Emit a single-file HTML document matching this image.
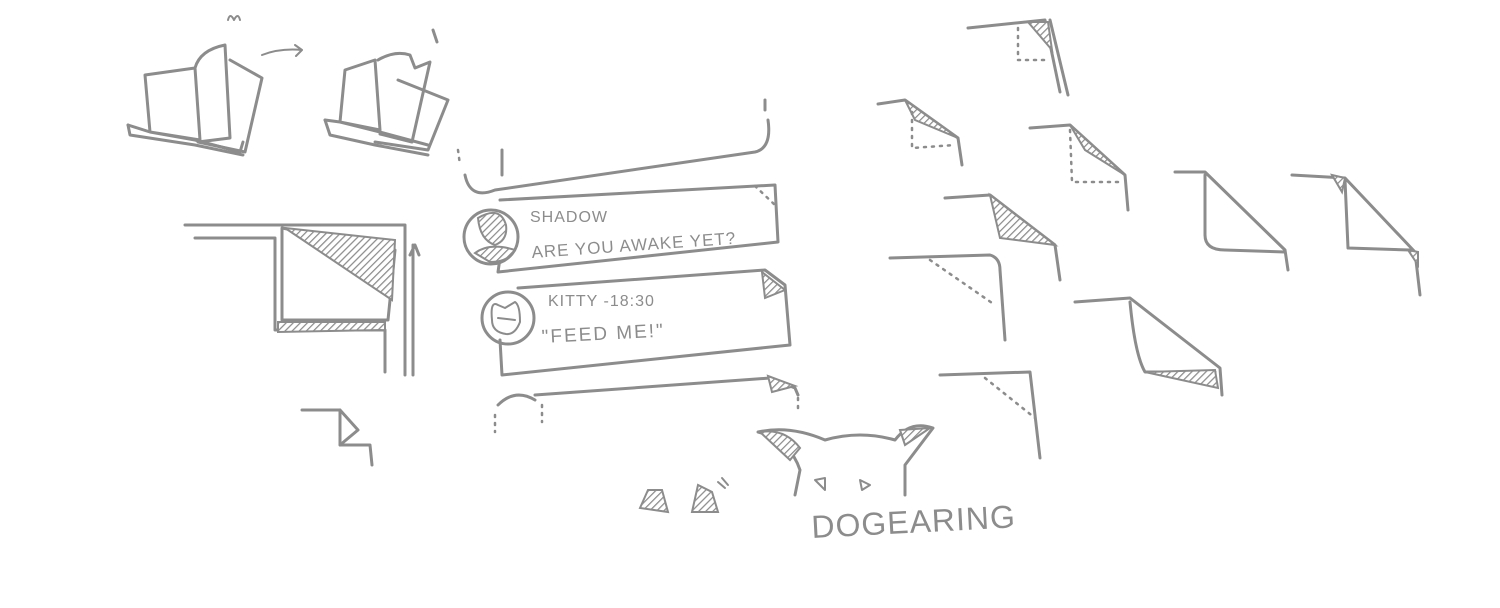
<!DOCTYPE html>
<html><head><style>
html,body{margin:0;padding:0;background:#fff;width:1500px;height:608px;overflow:hidden}
svg{display:block}
.s{fill:none;stroke:#8c8c8c;stroke-width:3;stroke-linecap:round;stroke-linejoin:round}
.t{stroke-width:2}
.d{stroke-dasharray:2 6;stroke-width:2.5}
.h{fill:url(#hatch);stroke:#8c8c8c;stroke-width:2}
text{font-family:"Liberation Sans",sans-serif;fill:#8c8c8c;letter-spacing:2px}
</style></head><body>
<svg width="1500" height="608" viewBox="0 0 1500 608">
<defs><pattern id="hatch" width="5" height="5" patternUnits="userSpaceOnUse" patternTransform="rotate(45)"><rect width="5" height="5" fill="#fff"/><line x1="0" y1="0" x2="0" y2="5" stroke="#8c8c8c" stroke-width="2.5"/></pattern></defs>
<!-- books -->
<path class="s" d="M145 75 L195 68 L200 140 L150 132 Z M128 125 L150 132 L195 140 L240 152 L243 142"/>
<path class="s" d="M195 68 Q200 50 225 45 L230 138 L198 142 M230 60 L262 78 L245 152 L198 142"/>
<path class="s" d="M128 125 L130 135 L195 145 L243 155"/>
<path class="s t" d="M228 20 Q230 12 234 20 Q238 12 240 20 M262 55 Q280 48 302 50 M295 45 L302 50 L296 56"/>
<path class="s" d="M345 70 L375 60 L380 130 L340 122 Z M325 120 L340 122 L380 132 L428 145"/>
<path class="s" d="M378 60 Q395 50 410 55 L415 68 L430 62 L412 142 L380 134 M398 80 L448 100 L428 150 L375 142"/>
<path class="s" d="M325 120 L330 135 L375 145 L428 155 M433 30 L437 42"/>
<!-- big dogear -->
<path class="s" d="M185 225 L405 225 L405 375 M195 238 L275 238 L275 330 L385 330 L385 372"/>
<path class="s" d="M282 228 L282 320 L388 320 L395 250 Z"/>
<path class="h" d="M285 228 L395 240 L392 300 Z"/>
<path class="h" d="M278 322 L385 322 L385 330 L278 332 Z"/>
<path class="s" d="M413 245 L413 375 M410 255 L415 245 L419 255"/>
<path class="s" d="M302 410 L340 410 L340 445 L370 445 L372 465 M340 410 L358 430 L340 445"/>
<!-- chat -->
<path class="s" d="M765 100 L765 110 M768 120 Q772 148 755 152 L495 190 Q470 200 465 175 M502 150 L502 175"/>
<path class="s d" d="M458 150 L460 165"/>
<path class="s" d="M500 200 L775 185 L778 242 L498 272 L500 258"/>
<path class="s d" d="M755 186 L775 205"/>
<circle class="s" cx="491" cy="237" r="27"/>
<path class="h" d="M478 218 Q500 205 506 225 Q508 240 495 245 Q480 240 478 218 Z"/>
<path class="h" d="M475 253 Q490 242 515 250 Q508 262 490 262 Z"/>
<text x="530" y="222" font-size="16" style="letter-spacing:1px">SHADOW</text>
<text x="532" y="258" font-size="17" style="letter-spacing:1px" transform="rotate(-4 532 258)">ARE YOU AWAKE YET?</text>
<path class="s" d="M518 288 L765 270 L785 285 L790 345 L502 375 L500 340"/>
<path class="h" d="M762 272 L785 290 L765 298 Z"/>
<circle class="s" cx="508" cy="318" r="26"/>
<path class="s t" d="M492 320 Q490 300 498 305 L505 308 L515 302 Q520 305 520 322 Q515 335 506 334 Q492 332 492 320 Z M498 318 L515 320"/>
<text x="548" y="306" font-size="16" style="letter-spacing:1px">KITTY -18:30</text>
<text x="542" y="343" font-size="19" transform="rotate(-3 542 343)">"FEED ME!"</text>
<path class="s" d="M535 395 L770 378 L795 388 L798 395"/>
<path class="h" d="M768 376 L795 386 L772 392 Z"/>
<path class="s" d="M498 405 Q515 388 535 400"/>
<path class="s d" d="M495 415 L495 432 M542 405 L542 422 M798 398 L798 410"/>
<!-- right dogears -->
<path class="s" d="M968 28 L1045 20 L1060 92 M1050 20 L1068 95"/>
<path class="h" d="M1028 22 L1048 22 L1052 50 Z"/><path class="s d" d="M1018 28 L1018 60 L1050 60"/>
<path class="s" d="M878 104 L905 100 L958 138 L962 165"/><path class="h" d="M905 100 L958 138 L915 120 Z"/><path class="s d" d="M912 112 L912 148 L955 145"/>
<path class="s" d="M1030 128 L1070 125 L1125 175 L1128 210"/><path class="h" d="M1070 125 L1125 175 L1085 150 Z"/><path class="s d" d="M1070 130 L1072 182 L1120 182"/>
<path class="s" d="M945 198 L990 195 L1055 245 L1060 280"/><path class="h" d="M990 195 L1055 245 L1000 238 Z"/>
<path class="s" d="M1175 172 L1205 172 L1285 250 L1288 270 M1205 175 L1205 235 Q1205 250 1225 250 L1285 252"/>
<path class="s" d="M1292 175 L1345 178 L1415 252 L1420 295 M1345 180 L1348 248 L1410 250"/><path class="h" d="M1332 175 L1345 178 L1342 192 Z"/><path class="h" d="M1408 250 L1418 252 L1418 265 Z"/>
<path class="s" d="M890 258 L990 255 Q1000 258 1000 270 L1005 340"/><path class="s d" d="M930 260 L995 305"/>
<path class="s" d="M1075 302 L1130 298 L1220 368 L1222 395 M1130 302 Q1135 355 1145 372 L1215 372"/><path class="h" d="M1145 372 L1215 370 L1218 388 Z"/>
<path class="s" d="M940 375 L1030 372 L1040 458"/><path class="s d" d="M985 378 L1035 418"/>
<!-- dog -->
<path class="s" d="M795 495 L800 470 Q790 440 758 432 Q790 425 825 440 Q860 430 895 440 Q910 420 933 428 L905 465 L905 495"/>
<path class="h" d="M760 432 Q785 428 800 448 L790 460 Z"/><path class="h" d="M900 430 L930 428 L905 445 Z"/>
<path class="s t" d="M815 480 L825 478 L825 490 Z M860 480 L870 485 L862 490 Z"/>
<path class="h" d="M640 508 L648 490 L662 490 L668 512 Z"/><path class="h" d="M692 512 L698 485 L712 492 L718 512 Z"/>
<path class="s t" d="M718 482 L725 488 M722 478 L728 485"/>
<text x="812" y="538" font-size="32" transform="rotate(-3 812 538)" style="letter-spacing:1px">DOGEARING</text>
</svg>
</body></html>
